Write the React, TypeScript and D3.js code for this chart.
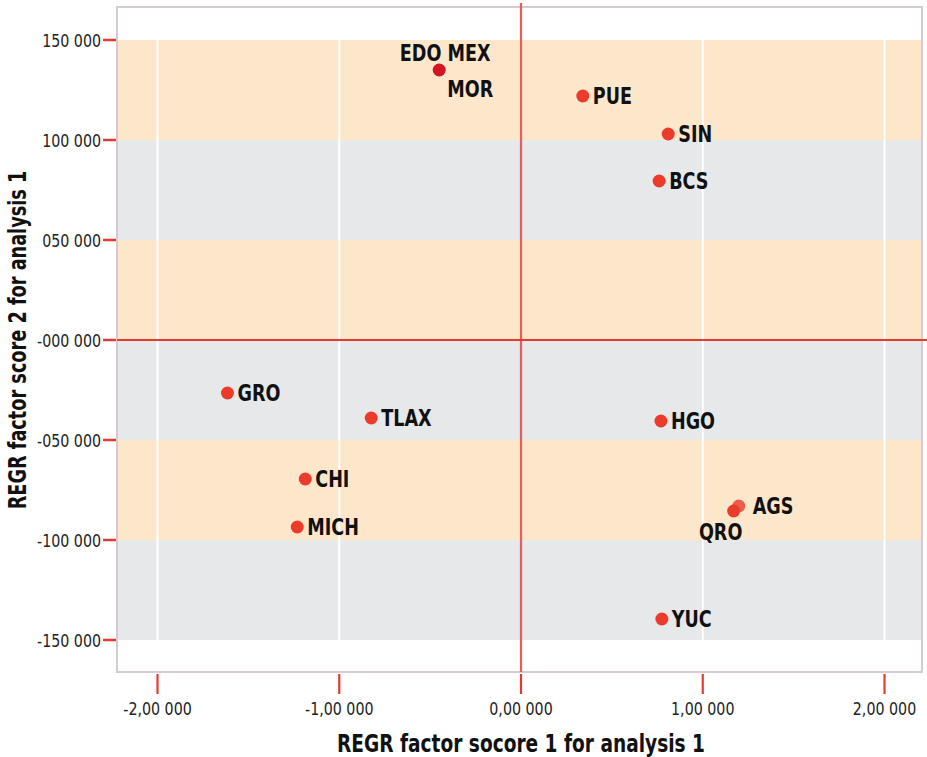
import * as d3 from "d3";

const states = ["EDO MEX", "PUE", "SIN", "BCS", "GRO", "TLAX", "HGO", "CHI", "MICH", "AGS", "QRO", "YUC"];
const score1 = [-0.45, 0.34, 0.81, 0.76, -1.615, -0.824, 0.77, -1.187, -1.231, 1.198, 1.17, 0.775];
const score2 = [135000, 122000, 103000, 79500, -26500, -39000, -40500, -69500, -93500, -83000, -85500, -139500];

const xTicks = [-2, -1, 0, 1, 2];
const xTickLabels = ["-2,00 000", "-1,00 000", "0,00 000", "1,00 000", "2,00 000"];
const yTicks = [150000, 100000, 50000, 0, -50000, -100000, -150000];
const yTickLabels = ["150 000", "100 000", "050 000", "-000 000", "-050 000", "-100 000", "-150 000"];
const bandEdges = [150000, 100000, 50000, 0, -50000, -100000, -150000];

const W = 927;
const H = 757;
const left = 117, right = 922, top = 7, bottom = 672;
const font = "'DejaVu Sans Condensed', 'Open Sans', sans-serif";

// narrow text: squeeze along its own direction
function Label({ x, y, anchor = "start", sx = 0.85, size = 23, rotate = 0, weight = "bold", fill = "#111", children }: any) {
  return (
    <text transform={`translate(${x},${y}) rotate(${rotate}) scale(${sx},1)`} textAnchor={anchor}
      fontFamily={font} fontWeight={weight} fontSize={size} fill={fill}>
      {children}
    </text>
  );
}

export default function App() {
  const x = d3.scaleLinear().domain([-2, 2]).range([157.5, 884.5]);
  const y = d3.scaleLinear().domain([150000, -150000]).range([40, 640]);

  const bands = d3.pairs(bandEdges);
  const red = "#e8392f";

  return (
    <svg width={W} height={H} style={{ position: "absolute", left: 0, top: 0 }}>
      <rect x={0} y={0} width={W} height={H} fill="#fff" />
      {/* frame */}
      <rect x={left} y={top} width={right - left} height={bottom - top} fill="#fff" stroke="#d5c9d3" strokeWidth={2} />
      {bands.map(([a, b], i) => (
        <rect key={i} x={left + 1} y={y(a)} width={right - left - 2} height={y(b) - y(a)}
          fill={i % 2 === 0 ? "#fde7cb" : "#e7e8ea"} />
      ))}
      {xTicks.map((t) => (
        <line key={"g" + t} x1={x(t)} x2={x(t)} y1={y(150000)} y2={y(-150000)} stroke="#fff" strokeWidth={2} />
      ))}
      {/* reference lines */}
      <line x1={x(0)} x2={x(0)} y1={3} y2={bottom} stroke="#ec5a5e" strokeWidth={2.2} />
      <line x1={left} x2={W} y1={y(0)} y2={y(0)} stroke="#e8392f" strokeWidth={2} />
      {/* y axis */}
      {yTicks.map((t, i) => (
        <g key={"y" + t}>
          <line x1={103} x2={left - 1} y1={y(t)} y2={y(t)} stroke={red} strokeWidth={2.5} />
          <Label x={101} y={y(t) + 6.5} anchor="end" sx={0.88} size={18} weight="normal" fill="#222">
            {yTickLabels[i]}
          </Label>
        </g>
      ))}
      {/* x axis */}
      {xTicks.map((t, i) => (
        <g key={"x" + t}>
          <line x1={x(t)} x2={x(t)} y1={bottom + 2} y2={694} stroke={red} strokeWidth={2.2} />
          <Label x={x(t)} y={715} anchor="middle" sx={0.88} size={18} weight="normal" fill="#222">
            {xTickLabels[i]}
          </Label>
        </g>
      ))}
      <Label x={x(0)} y={752} anchor="middle" sx={0.86} size={24}>REGR factor socore 1 for analysis 1</Label>
      <Label x={26} y={y(0)} anchor="middle" sx={0.82} size={24} rotate={-90}>REGR factor score 2 for analysis 1</Label>
      {/* points */}
      {states.map((s, i) => (
        <circle key={"p" + s} cx={x(score1[i])} cy={y(score2[i])} r={6.5}
          fill={s === "EDO MEX" ? "#d4151f" : "#ec3a2b"} opacity={s === "AGS" ? 0.8 : 1} />
      ))}
      {states.map((s, i) => {
        const cx = x(score1[i]);
        const cy = y(score2[i]);
        if (s === "EDO MEX") {
          return (
            <g key={"l" + s}>
              <Label x={cx + 6} y={cy - 9} anchor="middle">EDO MEX</Label>
              <Label x={cx + 8} y={cy + 27}>MOR</Label>
            </g>
          );
        }
        if (s === "QRO") {
          return <Label key={"l" + s} x={cx - 13} y={cy + 29} anchor="middle">QRO</Label>;
        }
        return <Label key={"l" + s} x={cx + (s === "AGS" ? 14 : 10)} y={cy + 8}>{s}</Label>;
      })}
    </svg>
  );
}
